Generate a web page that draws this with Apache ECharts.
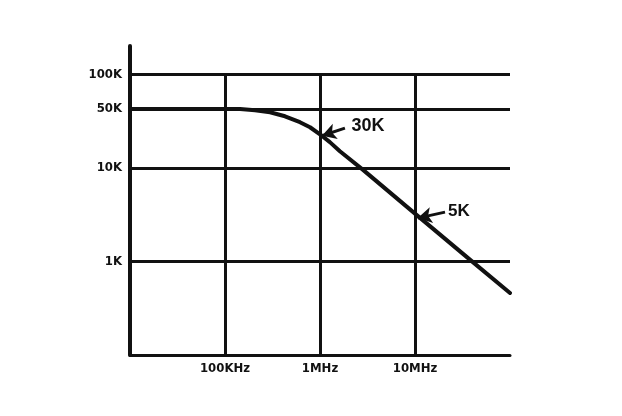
<!DOCTYPE html>
<html>
<head>
<meta charset="utf-8">
<script src="https://cdn.jsdelivr.net/npm/echarts@6/dist/echarts.min.js"></script>
<style>
html,body{margin:0;padding:0;background:#fff;}
#c{width:622px;height:416px;}
</style>
</head>
<body>
<div id="c"></div>
<script>
// Curve (frequency in Hz, gain)
const freq = [1e4, 1.44e5, 2.07e5, 2.98e5, 4.28e5, 6.15e5, 7.85e5, 1e6, 1.27e6, 1.62e6, 2.84e6, 1e7, 3.98e7, 1e8];
const gain = [42500, 42500, 41200, 39200, 35500, 30700, 27100, 22800, 18800, 15000, 9500, 3240, 1000, 460];

// Horizontal grid levels and their labels
const yLevels = [100000, 42500, 10000, 1000];
const yLabels = ['100K', '50K', '10K', '1K'];
// Vertical grid frequencies and their labels
const xLevels = [1e5, 1e6, 1e7];
const xLabels = ['100KHz', '1MHz', '10MHz'];

// Annotations: [text, from point, to point]
const notes = [
  ['30K', [1.83e6, 26500], [1.05e6, 22000]],
  ['5K', [2.07e7, 3360], [1.07e7, 2900]]
];

const FONT = '"DejaVu Sans Condensed", "Liberation Sans Narrow", "DejaVu Sans", sans-serif';
const INK = '#111';

const gridLines = [];
yLevels.forEach((v, i) => {
  gridLines.push({
    yAxis: v,
    label: { show: true, position: 'start', formatter: yLabels[i], distance: 8,
      color: INK, fontFamily: FONT, fontWeight: 'bold', fontSize: 13 }
  });
});
xLevels.forEach((v, i) => {
  gridLines.push([
    { coord: [v, 100],
      label: { show: true, position: 'start', formatter: xLabels[i], distance: 7,
        color: INK, fontFamily: FONT, fontWeight: 'bold', fontSize: 13 } },
    { coord: [v, 100000] }
  ]);
});

const arrowLines = notes.map(n => [
  { coord: n[1],
    label: { show: true, position: 'start', formatter: n[0], distance: n[0] === '30K' ? 7 : 3,
      color: INK, fontFamily: '"Liberation Sans", Arial, sans-serif', fontWeight: 'bold',
      fontSize: n[0] === '30K' ? 18 : 17 } },
  { coord: n[2] }
]);

const curve = freq.map((f, i) => [f, gain[i]]);

const chart = echarts.init(document.getElementById('c'), null, { renderer: 'canvas' });
chart.setOption({
  animation: false,
  backgroundColor: '#fff',
  grid: { left: 130, right: 112, top: 46, bottom: 61 },
  xAxis: {
    type: 'log', logBase: 10, min: 1e4, max: 1e8,
    axisLine: { show: true, onZero: false, lineStyle: { color: INK, width: 3 } },
    axisTick: { show: false }, axisLabel: { show: false }, splitLine: { show: false }
  },
  yAxis: {
    type: 'log', logBase: 10, min: 100, max: 200000,
    axisLine: { show: true, onZero: false, lineStyle: { color: INK, width: 4 } },
    axisTick: { show: false }, axisLabel: { show: false }, splitLine: { show: false }
  },
  series: [
    {
      type: 'line', z: 1, silent: true,
      data: curve, showSymbol: false, lineStyle: { opacity: 0 },
      markLine: {
        silent: true, symbol: ['none', 'none'], animation: false,
        lineStyle: { color: INK, width: 3, type: 'solid' },
        data: gridLines
      }
    },
    {
      type: 'line', z: 5, silent: true,
      data: curve, smooth: false, showSymbol: false,
      lineStyle: { color: INK, width: 4, join: 'round', cap: 'round' },
      markLine: {
        silent: true, symbol: ['none', 'arrow'], symbolSize: [12, 14], animation: false,
        lineStyle: { color: INK, width: 3, type: 'solid' },
        data: arrowLines
      }
    }
  ]
});
</script>
</body>
</html>
